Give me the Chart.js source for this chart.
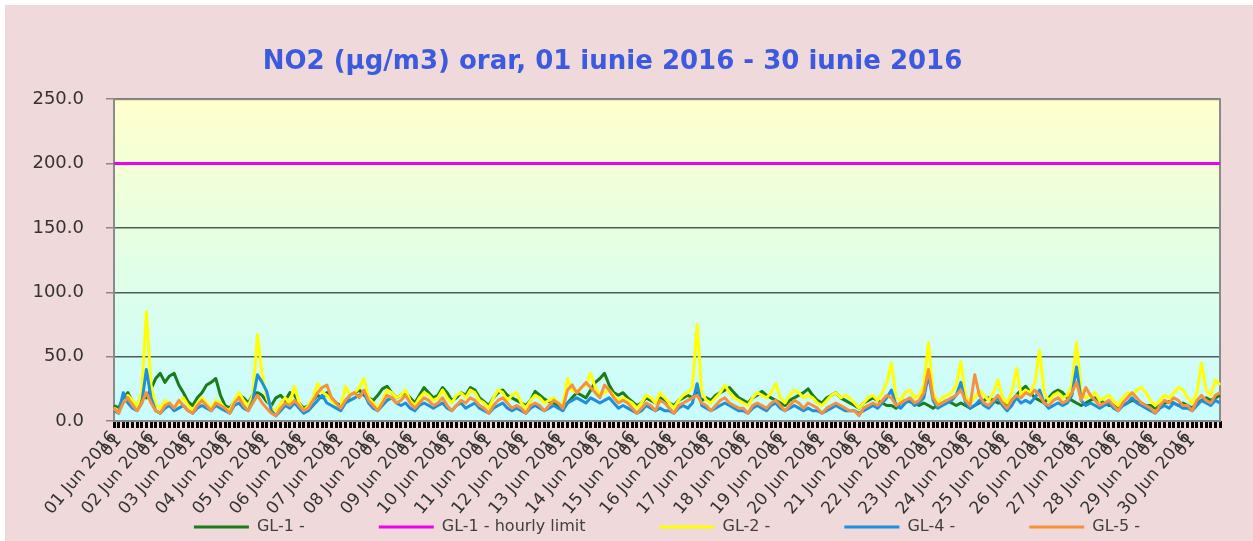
<!DOCTYPE html>
<html>
<head>
<meta charset="utf-8">
<title>NO2 orar iunie 2016</title>
<script src="https://cdn.jsdelivr.net/npm/chart.js@4.4.1/dist/chart.umd.min.js"></script>
<style>
  html, body { margin: 0; padding: 0; background: #fff; }
  #wrap { position: absolute; left: 5px; top: 5px; width: 1248px; height: 536px; background: #efd9da; }
</style>
</head>
<body>
<div id="wrap"><canvas id="no2Chart"></canvas></div>
<script>
// days on the x axis and the 3-hourly slots inside each day
const days = [
  '01 Jun 2016', '02 Jun 2016', '03 Jun 2016', '04 Jun 2016', '05 Jun 2016',
  '06 Jun 2016', '07 Jun 2016', '08 Jun 2016', '09 Jun 2016', '10 Jun 2016',
  '11 Jun 2016', '12 Jun 2016', '13 Jun 2016', '14 Jun 2016', '15 Jun 2016',
  '16 Jun 2016', '17 Jun 2016', '18 Jun 2016', '19 Jun 2016', '20 Jun 2016',
  '21 Jun 2016', '22 Jun 2016', '23 Jun 2016', '24 Jun 2016', '25 Jun 2016',
  '26 Jun 2016', '27 Jun 2016', '28 Jun 2016', '29 Jun 2016', '30 Jun 2016'
]
const hours = ['00', '03', '06', '09', '12', '15', '18', '21']
const hourTag = '01'

const yTicks = [0, 50, 100, 150, 200, 250]
const hourlyLimit = 200

// GL-1 (one row per day)
const gl1 = [
  12, 10, 18, 22, 15, 12, 20, 18,
  25, 33, 37, 30, 35, 37, 28, 22,
  15, 12, 18, 22, 28, 30, 33, 20,
  12, 10, 15, 20, 18, 14, 20, 22,
  20, 15, 12, 18, 20, 16, 22, 20,
  14, 10, 12, 16, 20, 18, 22, 18,
  14, 12, 15, 20, 22, 24, 20, 18,
  16, 20, 25, 27, 22, 18, 20, 22,
  18, 14, 20, 26, 22, 18, 20, 26,
  22, 16, 18, 22, 20, 26, 24, 18,
  15, 12, 18, 22, 24, 20, 18, 16,
  14, 12, 16, 23, 20, 17, 15, 14,
  12, 10, 14, 18, 22, 20, 18, 24,
  30, 33, 37, 28, 22, 20, 22, 18,
  15, 12, 14, 18, 16, 14, 18, 16,
  14, 12, 16, 18, 20, 18, 22, 16,
  18, 16, 20, 22, 24, 26, 22, 18,
  16, 14, 18, 20, 23, 20, 18, 16,
  14, 12, 16, 18, 20, 22, 25, 20,
  16, 14, 18, 20, 22, 18, 16, 14,
  12, 10, 14, 16, 18, 16, 14, 12,
  12, 10, 14, 16, 15, 14, 12, 14,
  12, 10, 12, 14, 16, 14, 12, 14,
  12, 10, 12, 14, 16, 18, 16, 14,
  14, 12, 16, 20, 24, 27, 22, 18,
  16, 14, 18, 22, 24, 22, 18, 16,
  14, 12, 14, 16, 18, 16, 14, 12,
  12, 10, 12, 14, 16, 15, 14, 12,
  12, 10, 12, 14, 15, 14, 12, 14,
  12, 10, 14, 16, 18, 16, 18, 20
]

// GL-2
const gl2 = [
  10, 8, 14, 20, 16, 12, 22, 85,
  28, 12, 10, 16, 14, 10, 14, 18,
  12, 8, 14, 18, 14, 10, 16, 14,
  10, 8, 16, 22, 16, 12, 20, 67,
  36, 18, 10, 8, 14, 18, 14, 27,
  14, 8, 12, 18, 29, 22, 20, 16,
  12, 10, 27, 20, 22, 26, 33, 18,
  14, 10, 16, 24, 22, 18, 20, 24,
  16, 12, 18, 22, 20, 16, 18, 24,
  18, 14, 20, 22, 18, 24, 22, 16,
  14, 10, 18, 24, 22, 16, 20, 22,
  14, 10, 16, 20, 18, 14, 16, 18,
  14, 12, 33, 24, 22, 26, 28, 37,
  26, 20, 22, 24, 20, 16, 18, 16,
  14, 10, 14, 20, 18, 14, 22, 18,
  14, 10, 16, 20, 22, 26, 75, 22,
  16, 14, 18, 22, 28, 22, 18, 16,
  14, 12, 18, 22, 20, 18, 22, 29,
  18, 14, 20, 24, 22, 18, 20, 18,
  14, 12, 16, 20, 22, 18, 20, 18,
  14, 10, 14, 18, 20, 16, 22, 30,
  45, 18, 16, 22, 24, 18, 20, 28,
  61, 22, 14, 18, 20, 22, 28, 46,
  20, 14, 18, 24, 20, 16, 22, 32,
  18, 14, 22, 41, 20, 24, 22, 30,
  55, 22, 16, 20, 22, 18, 20, 28,
  61, 24, 18, 20, 22, 16, 18, 20,
  16, 12, 18, 22, 20, 24, 26, 22,
  16, 12, 16, 20, 18, 22, 26, 24,
  18, 14, 22, 45, 24, 20, 32, 28
]

// GL-4
const gl4 = [
  8, 6, 22, 14, 10, 8, 14, 40,
  18, 8, 6, 10, 12, 8, 10, 12,
  8, 6, 10, 12, 10, 8, 12, 10,
  8, 6, 12, 14, 10, 8, 16, 36,
  30, 23, 8, 4, 8, 12, 10, 14,
  10, 6, 8, 12, 16, 20, 14, 12,
  10, 8, 14, 16, 18, 20, 22, 14,
  10, 8, 12, 16, 18, 14, 12, 14,
  10, 8, 12, 14, 12, 10, 12, 14,
  10, 8, 12, 14, 10, 12, 14, 10,
  8, 6, 10, 12, 14, 10, 8, 10,
  8, 6, 10, 12, 10, 8, 10, 12,
  10, 8, 14, 16, 18, 16, 14, 18,
  16, 14, 16, 18, 14, 10, 12, 10,
  8, 6, 8, 12, 10, 8, 10, 8,
  8, 6, 10, 12, 10, 14, 29, 12,
  10, 8, 10, 12, 14, 12, 10, 8,
  8, 6, 10, 12, 10, 8, 12, 14,
  10, 8, 10, 12, 10, 8, 10, 8,
  8, 6, 8, 10, 12, 10, 8, 8,
  8, 6, 8, 10, 12, 10, 14, 18,
  24, 12, 10, 14, 16, 12, 14, 18,
  36, 16, 10, 12, 14, 16, 20, 30,
  14, 10, 12, 16, 12, 10, 14, 18,
  12, 8, 12, 18, 14, 16, 14, 18,
  24, 14, 10, 12, 14, 12, 14, 20,
  42, 16, 12, 14, 12, 10, 12, 14,
  10, 8, 12, 14, 18, 14, 12, 10,
  8, 6, 10, 12, 10, 14, 12, 10,
  10, 8, 12, 16, 14, 12, 16, 14
]

// GL-5
const gl5 = [
  10, 6, 14, 18, 12, 8, 14, 22,
  14, 8, 6, 12, 14, 10, 16, 12,
  8, 6, 12, 16, 12, 8, 14, 12,
  10, 6, 14, 18, 12, 8, 14, 20,
  14, 10, 6, 4, 10, 14, 12, 16,
  12, 8, 10, 16, 22, 26, 28, 18,
  14, 10, 16, 20, 22, 18, 24, 16,
  12, 8, 14, 20, 18, 14, 16, 20,
  14, 10, 14, 18, 16, 12, 14, 18,
  12, 8, 12, 16, 14, 18, 16, 12,
  10, 6, 12, 16, 18, 14, 10, 12,
  10, 6, 12, 14, 12, 8, 12, 16,
  14, 10, 24, 28, 22, 26, 30, 26,
  22, 18, 28, 24, 18, 14, 16, 14,
  10, 6, 10, 14, 12, 8, 16, 14,
  10, 6, 12, 14, 16, 18, 20, 14,
  12, 8, 12, 16, 18, 14, 12, 10,
  10, 6, 12, 14, 12, 10, 14, 16,
  12, 8, 12, 16, 14, 10, 14, 12,
  10, 6, 10, 12, 14, 12, 10, 8,
  8, 4, 10, 12, 14, 12, 16, 20,
  18, 12, 14, 16, 18, 14, 16, 22,
  40, 18, 12, 14, 16, 18, 20, 24,
  16, 12, 36, 20, 14, 12, 16, 20,
  14, 10, 16, 20, 18, 22, 20, 24,
  20, 14, 12, 16, 18, 14, 16, 22,
  30, 16, 26, 20, 16, 12, 14, 16,
  12, 8, 14, 18, 22, 18, 14, 12,
  10, 6, 12, 16, 14, 18, 16, 12,
  12, 8, 16, 20, 16, 14, 20, 22
]

const labels = days.flatMap(d => hours.map(h => d + ' ' + h))
const limitLine = labels.map(() => hourlyLimit)

// plot area: yellow-to-cyan fill and grey frame
const plotBackground = {
  id: 'plotBackground',
  afterLayout(chart) {
    // the x box is kept short so the legend sits close; let its rotated labels run below it
    chart.scales.x.bottom = chart.height
  },
  beforeDraw(chart) {
    const { ctx, chartArea: a } = chart
    const g = ctx.createLinearGradient(0, a.top, 0, a.bottom)
    g.addColorStop(0, '#ffffcc')
    g.addColorStop(0.5, '#e2ffe6')
    g.addColorStop(1, '#c8fcff')
    ctx.save()
    ctx.fillStyle = g
    ctx.fillRect(a.left, a.top, a.right - a.left, a.bottom - a.top)
    ctx.restore()
  },
  beforeDatasetsDraw(chart) {
    const { ctx, chartArea: a } = chart
    ctx.save()
    ctx.strokeStyle = '#8a8a8a'
    ctx.lineWidth = 2
    ctx.strokeRect(a.left, a.top, a.right - a.left, a.bottom - a.top)
    ctx.restore()
  }
}

const line = (label, data, color, order) => ({
  label, data, order,
  borderColor: color,
  backgroundColor: color,
  borderWidth: 3,
  pointRadius: 0,
  tension: 0,
  borderJoinStyle: 'round'
})

const ctx = document.getElementById('no2Chart').getContext('2d')

const no2Chart = new Chart(ctx, {
  type: 'line',
  data: {
    labels: labels,
    datasets: [
      line('GL-1 -', gl1, '#1a7d1a', 5),
      line('GL-1 - hourly limit', limitLine, '#f000f0', 4),
      line('GL-2 -', gl2, '#ffff00', 3),
      line('GL-4 -', gl4, '#1e8fe0', 2),
      line('GL-5 -', gl5, '#f6923c', 1)
    ]
  },
  options: {
    responsive: true,
    maintainAspectRatio: false,
    animation: false,
    layout: { padding: { top: 0, left: 0, right: 33, bottom: -4 } },
    plugins: {
      title: {
        display: true,
        text: 'NO2 (µg/m3) orar, 01 iunie 2016 - 30 iunie 2016',
        color: '#3c5ae0',
        font: { family: 'DejaVu Sans', size: 26, weight: 'bold', lineHeight: 1.2 },
        padding: { top: 42, bottom: 21 }
      },
      legend: {
        position: 'bottom',
        fullSize: false,
        labels: {
          usePointStyle: true,
          pointStyle: 'line',
          pointStyleWidth: 55,
          padding: 74,
          color: '#404040',
          font: { family: 'DejaVu Sans', size: 16 },
          sort: (a, b) => a.datasetIndex - b.datasetIndex
        }
      },
      tooltip: { enabled: false }
    },
    scales: {
      x: {
        afterFit: (scale) => { scale.height = 24 },
        border: { display: false },
        grid: {
          drawOnChartArea: false,
          drawTicks: true,
          tickLength: 7,
          tickWidth: 3,
          tickColor: '#000'
        },
        ticks: {
          autoSkip: false,
          minRotation: 50,
          maxRotation: 50,
          padding: 4,
          color: '#333',
          font: { family: 'DejaVu Sans', size: 17, lineHeight: 0.35 },
          callback: (value, index) => index % hours.length === 0 ? [days[index / hours.length], hourTag] : ''
        }
      },
      y: {
        min: yTicks[0],
        max: yTicks[yTicks.length - 1],
        afterFit: (scale) => { scale.width = 109 },
        afterBuildTicks: (scale) => { scale.ticks = yTicks.map(v => ({ value: v })) },
        border: { display: true, color: '#8a8a8a', width: 2 },
        grid: {
          color: '#4f5c5a',
          lineWidth: 1.5,
          tickLength: 8,
          tickColor: '#8a8a8a'
        },
        ticks: {
          padding: 22,
          color: '#333',
          font: { family: 'DejaVu Sans', size: 18 },
          callback: (v) => Number(v).toFixed(1)
        }
      }
    }
  },
  plugins: [plotBackground]
})
</script>
</body>
</html>
